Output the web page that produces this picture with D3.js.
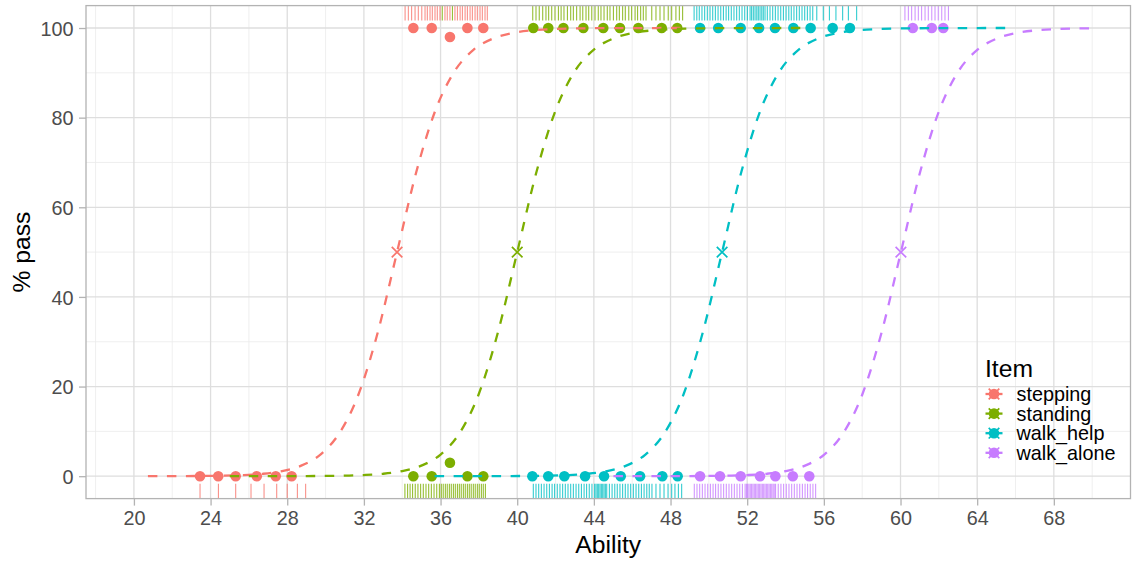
<!DOCTYPE html>
<html><head><meta charset="utf-8">
<script src="https://cdn.jsdelivr.net/npm/d3@7"></script>
<style>
body{margin:0;background:#fff;}
svg{display:block;font-family:"Liberation Sans",Arial,Helvetica,sans-serif;}
</style>
</head><body>
<svg id="chart" width="1136" height="561"></svg>
<script>
// ---------------- data ----------------
const items  = ["stepping", "standing", "walk_help", "walk_alone"];
const colors = ["#F8766D", "#7CAE00", "#00BFC4", "#C77CFF"];

const xTicks      = [20, 24, 28, 32, 36, 40, 44, 48, 52, 56, 60, 64, 68];
const xMinorTicks = [18, 22, 26, 30, 34, 38, 42, 46, 50, 54, 58, 62, 66, 70];
const yTicks      = [0, 20, 40, 60, 80, 100];
const yMinorTicks = [10, 30, 50, 70, 90];

// item difficulty (50% point)
const midpoints = [33.73, 40.0, 50.69, 60.02];

// observed % pass per ability group
const steppingX   = [23.45, 24.40, 25.31, 26.41, 27.40, 28.23, 34.58, 35.54, 36.49, 37.40, 38.23];
const steppingPct = [0, 0, 0, 0, 0, 0, 100, 100, 98, 100, 100];
const standingX   = [34.58, 35.54, 36.49, 37.40, 38.23, 40.84, 41.62, 42.41, 43.45, 44.49, 45.36, 46.32, 47.54, 48.35];
const standingPct = [0, 0, 3, 0, 0, 100, 100, 100, 100, 100, 100, 100, 100, 100];
const walkHelpX   = [40.79, 41.62, 42.46, 43.54, 44.53, 45.40, 46.41, 47.57, 48.37, 49.54, 50.49, 51.66, 52.62, 53.45, 54.41, 55.31, 56.46, 57.36];
const walkHelpPct = [0, 0, 0, 0, 0, 0, 0, 0, 0, 100, 100, 100, 100, 100, 100, 100, 100, 100];
const walkAloneX   = [49.54, 50.58, 51.66, 52.67, 53.47, 54.38, 55.24, 60.64, 61.63, 62.23];
const walkAlonePct = [0, 0, 0, 0, 0, 0, 0, 100, 100, 100];

// model curves: % pass sampled every 1 ability unit from curveStart
const curveStart = [20.73, 25.0, 35.69, 45.02];
const steppingCurve  = [0.006, 0.013, 0.028, 0.058, 0.122, 0.258, 0.54, 1.13, 2.35, 4.83, 9.66, 18.39, 32.19, 50, 67.81, 81.61, 90.34, 95.17, 97.65, 98.87, 99.46, 99.74, 99.88, 99.94, 99.97, 99.99, 99.99, 100, 100];
const standingCurve  = [0.001, 0.003, 0.006, 0.013, 0.028, 0.058, 0.122, 0.258, 0.54, 1.13, 2.35, 4.83, 9.66, 18.39, 32.19, 50, 67.81, 81.61, 90.34, 95.17, 97.65, 98.87, 99.46, 99.74, 99.88, 99.94, 99.97, 99.99, 99.99, 100, 100];
const walkHelpCurve  = [0.001, 0.003, 0.006, 0.013, 0.028, 0.058, 0.122, 0.258, 0.54, 1.13, 2.35, 4.83, 9.66, 18.39, 32.19, 50, 67.81, 81.61, 90.34, 95.17, 97.65, 98.87, 99.46, 99.74, 99.88, 99.94, 99.97, 99.99, 99.99, 100, 100];
const walkAloneCurve = [0.001, 0.003, 0.006, 0.013, 0.028, 0.058, 0.122, 0.258, 0.54, 1.13, 2.35, 4.83, 9.66, 18.39, 32.19, 50, 67.81, 81.61, 90.34, 95.17, 97.65, 98.87, 99.46, 99.74, 99.88, 99.94];

// person abilities (rug): passed (top) and failed (bottom)
const steppingPass = [34.15, 34.32, 34.49, 34.67, 34.84, 35.02, 35.19, 35.31, 35.45, 35.57, 35.71, 35.83, 35.97, 36.23, 36.35, 36.49, 36.75, 36.88, 37.02, 37.14, 37.28, 37.40, 37.54, 37.66, 37.80, 37.92, 38.06, 38.18, 38.32, 38.44];
const steppingFail = [23.45, 24.41, 25.31, 26.11, 26.79, 27.45, 28.00, 28.53, 28.96];
const standingPass = [36.09, 36.62, 40.81, 40.98, 41.15, 41.33, 41.50, 41.64, 41.80, 41.97, 42.15, 42.29, 42.44, 42.62, 42.79, 42.93, 43.10, 43.28, 43.42, 43.59, 43.73, 43.89, 44.06, 44.23, 44.37, 44.53, 44.70, 44.84, 45.02, 45.19, 45.33, 45.50, 45.64, 45.82, 45.97, 46.15, 46.28, 46.44, 46.58, 46.72, 47.02, 47.24, 47.45, 47.66, 47.88, 48.06, 48.28, 48.46, 48.63];
const standingFail = [34.14, 34.28, 34.41, 34.54, 34.68, 34.82, 34.96, 35.10, 35.24, 35.38, 35.52, 35.66, 35.80, 35.94, 36.04, 36.14, 36.25, 36.35, 36.46, 36.56, 36.67, 36.77, 36.88, 36.98, 37.08, 37.19, 37.29, 37.40, 37.50, 37.60, 37.71, 37.81, 37.92, 38.02, 38.13, 38.23, 38.34];
const walkHelpPass = [49.23, 49.37, 49.50, 49.64, 49.78, 49.92, 50.06, 50.20, 50.34, 50.48, 50.62, 50.76, 50.90, 51.03, 51.17, 51.31, 51.45, 51.59, 51.73, 51.87, 52.01, 52.15, 52.23, 52.32, 52.41, 52.50, 52.58, 52.67, 52.76, 52.84, 52.93, 53.05, 53.19, 53.33, 53.47, 53.61, 53.75, 53.89, 54.03, 54.17, 54.30, 54.44, 54.58, 54.72, 54.86, 55.00, 55.14, 55.28, 55.42, 55.63, 55.97, 56.29, 56.63, 56.98, 57.28, 57.71];
const walkHelpFail = [40.84, 40.98, 41.12, 41.26, 41.40, 41.54, 41.68, 41.82, 41.95, 42.09, 42.23, 42.37, 42.51, 42.65, 42.79, 42.93, 43.07, 43.21, 43.35, 43.49, 43.62, 43.76, 43.90, 44.04, 44.11, 44.18, 44.25, 44.32, 44.39, 44.46, 44.53, 44.60, 44.67, 44.81, 44.95, 45.09, 45.22, 45.36, 45.50, 45.64, 45.78, 45.92, 46.06, 46.20, 46.34, 46.48, 46.62, 46.76, 46.89, 47.03, 47.24, 47.45, 47.66, 47.87, 48.06, 48.23, 48.41, 48.58];
const walkAlonePass = [60.23, 60.41, 60.58, 60.76, 60.93, 61.10, 61.28, 61.45, 61.63, 61.80, 61.97, 62.15, 62.32, 62.50];
const walkAloneFail = [49.24, 49.38, 49.52, 49.66, 49.80, 49.94, 50.08, 50.22, 50.35, 50.49, 50.63, 50.77, 50.91, 51.05, 51.19, 51.33, 51.47, 51.61, 51.75, 51.89, 51.96, 52.02, 52.09, 52.16, 52.23, 52.30, 52.37, 52.44, 52.51, 52.58, 52.65, 52.72, 52.79, 52.86, 52.93, 53.00, 53.07, 53.14, 53.21, 53.28, 53.35, 53.41, 53.48, 53.62, 53.76, 53.90, 54.04, 54.18, 54.32, 54.46, 54.60, 54.74, 54.88, 55.02, 55.15, 55.29, 55.43, 55.57];

// ---------------- assemble ----------------
const pointX   = [steppingX, standingX, walkHelpX, walkAloneX];
const pointPct = [steppingPct, standingPct, walkHelpPct, walkAlonePct];
const curves   = [steppingCurve, standingCurve, walkHelpCurve, walkAloneCurve];
const passes   = [steppingPass, standingPass, walkHelpPass, walkAlonePass];
const fails    = [steppingFail, standingFail, walkHelpFail, walkAloneFail];

const svg = d3.select("#chart");
const P = {left: 86, right: 1130.5, top: 5.6, bottom: 498.6};

const x = d3.scaleLinear().domain([17.5, 72]).range([P.left, P.right]);
const y = d3.scaleLinear().domain([-5, 105]).range([P.bottom, P.top]);

svg.append("rect").attr("width", 1136).attr("height", 561).attr("fill", "#fff");

svg.append("defs").append("clipPath").attr("id", "panel")
  .append("rect").attr("x", P.left).attr("y", P.top)
  .attr("width", P.right - P.left).attr("height", P.bottom - P.top);

const grid = svg.append("g");
grid.selectAll(".xmin").data(xMinorTicks).join("line")
  .attr("x1", d => x(d)).attr("x2", d => x(d)).attr("y1", P.top).attr("y2", P.bottom)
  .attr("stroke", "#EBEBEB").attr("stroke-width", 0.8);
grid.selectAll(".ymin").data(yMinorTicks).join("line")
  .attr("y1", d => y(d)).attr("y2", d => y(d)).attr("x1", P.left).attr("x2", P.right)
  .attr("stroke", "#EBEBEB").attr("stroke-width", 0.8);
grid.selectAll(".xmaj").data(xTicks).join("line")
  .attr("x1", d => x(d)).attr("x2", d => x(d)).attr("y1", P.top).attr("y2", P.bottom)
  .attr("stroke", "#DEDEDE").attr("stroke-width", 1.3);
grid.selectAll(".ymaj").data(yTicks).join("line")
  .attr("y1", d => y(d)).attr("y2", d => y(d)).attr("x1", P.left).attr("x2", P.right)
  .attr("stroke", "#DEDEDE").attr("stroke-width", 1.3);

const plot = svg.append("g").attr("clip-path", "url(#panel)");
const rugLen = 0.03 * (P.bottom - P.top);

// rugs
items.forEach((it, i) => {
  const g = plot.append("g").attr("stroke", colors[i]).attr("stroke-width", 1.1).attr("stroke-opacity", 0.8);
  g.selectAll(".t").data(passes[i]).join("line")
    .attr("x1", d => x(d)).attr("x2", d => x(d)).attr("y1", P.top).attr("y2", P.top + rugLen);
  g.selectAll(".b").data(fails[i]).join("line")
    .attr("x1", d => x(d)).attr("x2", d => x(d)).attr("y1", P.bottom).attr("y2", P.bottom - rugLen);
});

// observed points
items.forEach((it, i) => {
  plot.append("g").selectAll("circle").data(pointX[i].map((v, k) => [v, pointPct[i][k]])).join("circle")
    .attr("cx", d => x(d[0])).attr("cy", d => y(d[1])).attr("r", 5.3)
    .attr("fill", colors[i]);
});

// model curves
const line = d3.line().x(d => x(d[0])).y(d => y(d[1])).curve(d3.curveMonotoneX);
items.forEach((it, i) => {
  const pts = curves[i].map((v, k) => [curveStart[i] + k, v]);
  plot.append("path").attr("d", line(pts)).attr("fill", "none")
    .attr("stroke", colors[i]).attr("stroke-width", 2.3).attr("stroke-dasharray", "9.5,9.5");
});

// 50% markers
items.forEach((it, i) => {
  const cx = x(midpoints[i]), cy = y(50), s = 5.3;
  plot.append("path").attr("d", `M${cx - s},${cy - s}L${cx + s},${cy + s}M${cx - s},${cy + s}L${cx + s},${cy - s}`)
    .attr("stroke", colors[i]).attr("stroke-width", 1.7).attr("fill", "none");
});

// panel border
svg.append("rect").attr("x", P.left).attr("y", P.top)
  .attr("width", P.right - P.left).attr("height", P.bottom - P.top)
  .attr("fill", "none").attr("stroke", "#B3B3B3").attr("stroke-width", 1.3);

// axes
const xAxis = svg.append("g").attr("transform", `translate(0,${P.bottom})`)
  .call(d3.axisBottom(x).tickValues(xTicks).tickSize(7).tickPadding(5).tickFormat(d3.format("d")));
const yAxis = svg.append("g").attr("transform", `translate(${P.left},0)`)
  .call(d3.axisLeft(y).tickValues(yTicks).tickSize(7).tickPadding(5.5).tickFormat(d3.format("d")));
[xAxis, yAxis].forEach(a => {
  a.select(".domain").remove();
  a.selectAll(".tick line").attr("stroke", "#B3B3B3").attr("stroke-width", 1.3);
  a.selectAll(".tick text").attr("fill", "#4D4D4D").style("font-size", "19.8px")
    .style("font-family", '"Liberation Sans",Arial,sans-serif');
});
yAxis.selectAll(".tick text").attr("dy", "0.36em");

// axis titles
svg.append("text").attr("x", (P.left + P.right) / 2).attr("y", 553)
  .attr("text-anchor", "middle").style("font-size", "24.7px").attr("fill", "#000").text("Ability");
svg.append("text").attr("transform", `translate(29.5,${(P.top + P.bottom) / 2}) rotate(-90)`)
  .attr("text-anchor", "middle").style("font-size", "24.7px").attr("fill", "#000").text("% pass");

// legend (inside panel)
const lg = svg.append("g");
lg.append("text").attr("x", 985).attr("y", 377).style("font-size", "24.7px").attr("fill", "#000").text("Item");
items.forEach((it, i) => {
  const ky = 394 + i * 19.6, kx = 994;
  const g = lg.append("g");
  g.append("line").attr("x1", kx - 8.5).attr("x2", kx + 8.5).attr("y1", ky).attr("y2", ky)
    .attr("stroke", colors[i]).attr("stroke-width", 2.3);
  g.append("circle").attr("cx", kx).attr("cy", ky).attr("r", 5.3).attr("fill", colors[i]);
  g.append("path").attr("d", `M${kx - 5.3},${ky - 5.3}L${kx + 5.3},${ky + 5.3}M${kx - 5.3},${ky + 5.3}L${kx + 5.3},${ky - 5.3}`)
    .attr("stroke", colors[i]).attr("stroke-width", 1.7);
  g.append("text").attr("x", 1016.5).attr("y", ky + 7).style("font-size", "19.8px").attr("fill", "#000").text(it);
});
</script>
</body></html>
